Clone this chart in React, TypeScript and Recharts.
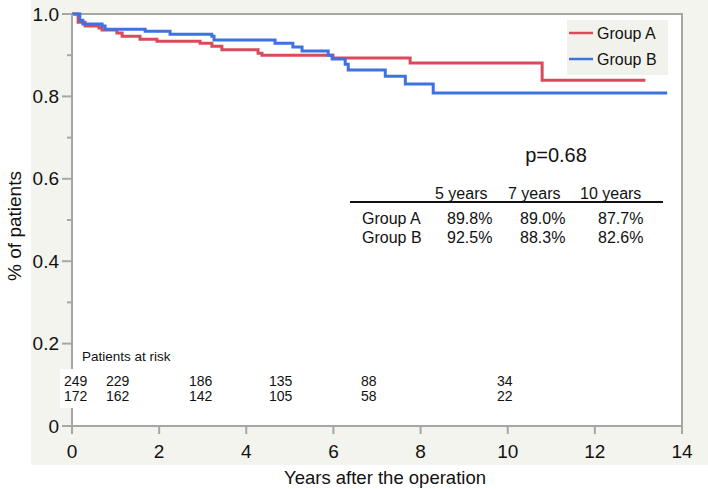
import { LineChart, Line, XAxis, YAxis } from "recharts"

const timesA = [0, 0.14, 0.3, 0.62, 0.69, 1.03, 1.15, 1.56, 1.95, 2.94, 3.21, 3.44, 4.27, 4.36, 5.99, 7.76, 10.79, 13.16]
const survA = [1.0, 0.98, 0.971, 0.966, 0.961, 0.954, 0.946, 0.939, 0.934, 0.929, 0.922, 0.913, 0.905, 0.9, 0.893, 0.881, 0.839, 0.839]

const timesB = [0, 0.18, 0.25, 0.69, 0.76, 1.68, 2.25, 3.21, 3.26, 4.66, 5.07, 5.28, 5.88, 5.97, 6.27, 6.34, 7.19, 7.65, 8.29, 13.66]
const survB = [1.0, 0.985, 0.976, 0.971, 0.963, 0.958, 0.951, 0.946, 0.937, 0.929, 0.92, 0.91, 0.9, 0.891, 0.878, 0.864, 0.849, 0.83, 0.808, 0.808]

const xTicks = [0, 2, 4, 6, 8, 10, 12, 14]
const yTicks = [0, 0.1, 0.2, 0.3, 0.4, 0.5, 0.6, 0.7, 0.8, 0.9, 1.0]

const seriesNames = ["Group A", "Group B"]
const pValue = "p=0.68"
const tableHeaders = ["5 years", "7 years", "10 years"]
const tableA = ["89.8%", "89.0%", "87.7%"]
const tableB = ["92.5%", "88.3%", "82.6%"]

const riskA = [249, 229, 186, 135, 88, 34]
const riskB = [172, 162, 142, 105, 58, 22]

const RED = "#d94a5a"
const BLUE = "#3d72e0"
const AXIS = "#a6a6a6"
const PANEL = "#f4f4ef"
const FONT = "'Liberation Sans', Arial, sans-serif"

const dataA = timesA.map((t, i) => ({ t, s: survA[i] }))
const dataB = timesB.map((t, i) => ({ t, s: survB[i] }))

// left edges of the at-risk columns
const riskCols = [64, 106, 189, 269, 361, 497]
const tableCols = [435, 508, 580]
const valueCols = [447, 520, 598]

function YTick(props: any) {
  const { x, y, payload } = props
  const v = Math.round(payload.value * 10)
  const major = v % 2 === 0
  return (
    <g>
      <line x1={x - (major ? 10 : 5)} x2={x} y1={y} y2={y} stroke={AXIS} strokeWidth={2} />
      {major && (
        <text x={x - 13} y={y} textAnchor="end" dominantBaseline="central" fontSize={19} fill="#111" fontFamily={FONT}>
          {v === 0 ? "0" : (v / 10).toFixed(1)}
        </text>
      )}
    </g>
  )
}

export default function App() {
  return (
    <div style={{ position: "absolute", left: 0, top: 0, width: 708, height: 489, background: "#fff", fontFamily: FONT }}>
      <svg width={708} height={489} style={{ position: "absolute", left: 0, top: 0 }}>
        <rect x={31} y={0} width={677} height={465} fill={PANEL} />
        <rect x={72} y={14} width={610} height={412} fill="#fff" stroke={AXIS} strokeWidth={2} />
      </svg>
      <div style={{ position: "absolute", left: 0, top: 0 }}>
        <LineChart width={708} height={489} margin={{ top: 14, right: 26, bottom: 0, left: 0 }}>
          <XAxis
            type="number"
            dataKey="t"
            domain={[0, 14]}
            ticks={xTicks}
            height={63}
            stroke={AXIS}
            strokeWidth={2}
            tickSize={8}
            tickMargin={11}
            tick={{ fontSize: 19, fill: "#111", fontFamily: FONT }}
          />
          <YAxis
            type="number"
            domain={[0, 1]}
            ticks={yTicks}
            width={72}
            stroke={AXIS}
            strokeWidth={2}
            tickLine={false}
            tickSize={0}
            tickMargin={0}
            tick={<YTick />}
            interval={0}
          />
          <Line data={dataA} dataKey="s" type="stepAfter" stroke={RED} strokeWidth={3} dot={false} isAnimationActive={false} />
          <Line data={dataB} dataKey="s" type="stepAfter" stroke={BLUE} strokeWidth={3} dot={false} isAnimationActive={false} />
        </LineChart>
      </div>
      <svg width={708} height={489} style={{ position: "absolute", left: 0, top: 0, pointerEvents: "none" }} fontFamily={FONT}>
        {/* legend */}
        <rect x={567} y={20} width={101} height={55} fill="#f2f2ed" />
        <line x1={569} x2={593} y1={33} y2={33} stroke={RED} strokeWidth={2.5} />
        <line x1={569} x2={593} y1={59} y2={59} stroke={BLUE} strokeWidth={2.5} />
        <text x={597} y={33} fontSize={16} dominantBaseline="central" fill="#111">{seriesNames[0]}</text>
        <text x={597} y={59} fontSize={16} dominantBaseline="central" fill="#111">{seriesNames[1]}</text>

        {/* survival table */}
        <text x={556} y={155} fontSize={20} textAnchor="middle" dominantBaseline="central" fill="#111">{pValue}</text>
        {tableHeaders.map((h, i) => (
          <text key={h} x={tableCols[i]} y={193} fontSize={16} dominantBaseline="central" fill="#111">{h}</text>
        ))}
        <line x1={350} x2={663} y1={202} y2={202} stroke="#111" strokeWidth={2} />
        <text x={362} y={218} fontSize={16} dominantBaseline="central" fill="#111">{seriesNames[0]}</text>
        <text x={362} y={237} fontSize={16} dominantBaseline="central" fill="#111">{seriesNames[1]}</text>
        {tableA.map((v, i) => (
          <text key={"a" + i} x={valueCols[i]} y={218} fontSize={16} dominantBaseline="central" fill="#111">{v}</text>
        ))}
        {tableB.map((v, i) => (
          <text key={"b" + i} x={valueCols[i]} y={237} fontSize={16} dominantBaseline="central" fill="#111">{v}</text>
        ))}

        {/* patients at risk */}
        <text x={82} y={356} fontSize={13.5} dominantBaseline="central" fill="#111">Patients at risk</text>
        <rect x={60} y={369} width={470} height={39} fill="#fff" />
        {riskA.map((n, i) => (
          <text key={"ra" + i} x={riskCols[i]} y={381} fontSize={14} dominantBaseline="central" fill="#111">{n}</text>
        ))}
        {riskB.map((n, i) => (
          <text key={"rb" + i} x={riskCols[i]} y={396} fontSize={14} dominantBaseline="central" fill="#111">{n}</text>
        ))}

        {/* axis titles */}
        <text x={385} y={477} fontSize={18.5} textAnchor="middle" dominantBaseline="central" fill="#111">Years after the operation</text>
        <text x={14} y={226} fontSize={19} textAnchor="middle" dominantBaseline="central" fill="#111" transform="rotate(-90 14 226)">% of patients</text>
      </svg>
    </div>
  )
}
